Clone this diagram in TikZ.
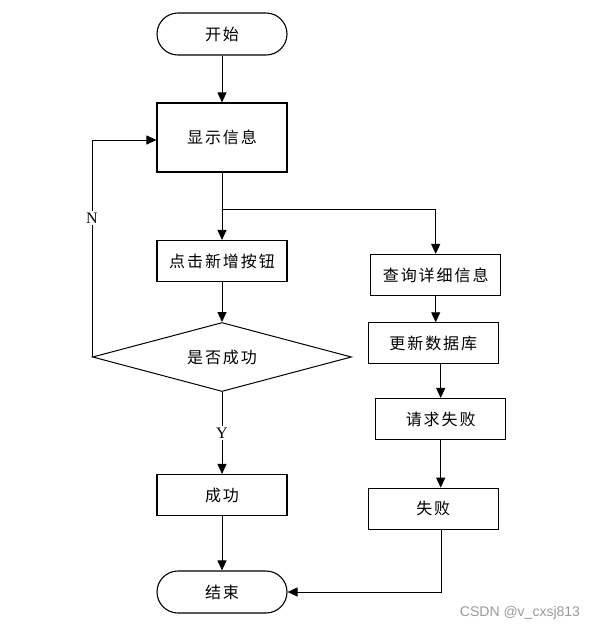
\documentclass[tikz,border=0pt]{standalone}
\usepackage{fontspec}
\setmainfont{Liberation Serif}
\newfontfamily\cjk[LetterSpace=12]{Noto Sans CJK SC}
\newfontfamily\marksans{Liberation Sans}
\usepackage{tikz}
\usetikzlibrary{shapes.geometric,arrows.meta,positioning}

\begin{document}
\begin{tikzpicture}[
    x=1pt, y=-1pt,
    stepbox/.style={draw, line width=1.1pt, rectangle, minimum width=130pt, minimum height=41pt, inner sep=0pt, font=\cjk\fontsize{16}{19}\selectfont},
    terminal/.style={stepbox, rounded corners=21pt, minimum height=42pt},
    decision/.style={draw, line width=1pt, diamond, aspect=3.75, minimum width=259pt, minimum height=69pt, inner sep=0pt, font=\cjk\fontsize{16}{19}\selectfont},
    flow/.style={-{Triangle[length=10pt,width=9pt]}, line width=0.9pt},
    branch/.style={fill=white, inner sep=2pt, font=\fontsize{16}{19}\selectfont}
]
    \useasboundingbox (0,0) rectangle (596,630);

    % left column: main path
    \node[terminal] (start) at (222,34) {开始};
    \node[stepbox, minimum height=69pt] (show) at (222,137.5) {显示信息};
    \node[stepbox] (click) at (222,261) {点击新增按钮};
    \node[decision] (check) at (222,357) {是否成功};
    \node[stepbox] (ok) at (222,495) {成功};
    \node[terminal] (stop) at (222,592) {结束};

    % right column: failure path
    \node[stepbox] (query) at (435.7,275) {查询详细信息};
    \node[stepbox] (update) at (433.3,343.3) {更新数据库};
    \node[stepbox] (request) at (440.7,419) {请求失败};
    \node[stepbox] (fail) at (433.3,508.7) {失败};

    \draw[flow] (start) -- (show);
    \draw[flow] (show.south) -- (click.north);
    \draw[flow] (show.south) -- ++(0,37) -| (query.north);
    \draw[flow] (click) -- (check);
    \draw[flow] (check.south) -- node[branch] {Y} (ok.north);
    \draw[flow] (check.west) |- node[branch, pos=0.32] {N} ([yshift=-2.5pt]show.west);
    \draw[flow] (ok) -- (stop);

    \draw[flow] (query.south) -- (query.south |- update.north);
    \draw[flow] (update.south -| request.north) -- (request.north);
    \draw[flow] (request.south) -- (request.south |- fail.north);
    \draw[flow] ([xshift=1pt]fail.south -| request.south) |- (stop.east);

    % watermark
    \node[text=black!40, font=\marksans\fontsize{14}{16}\selectfont] (mark) at (520,613) {CSDN @v\_cxsj813};
\end{tikzpicture}
\end{document}
